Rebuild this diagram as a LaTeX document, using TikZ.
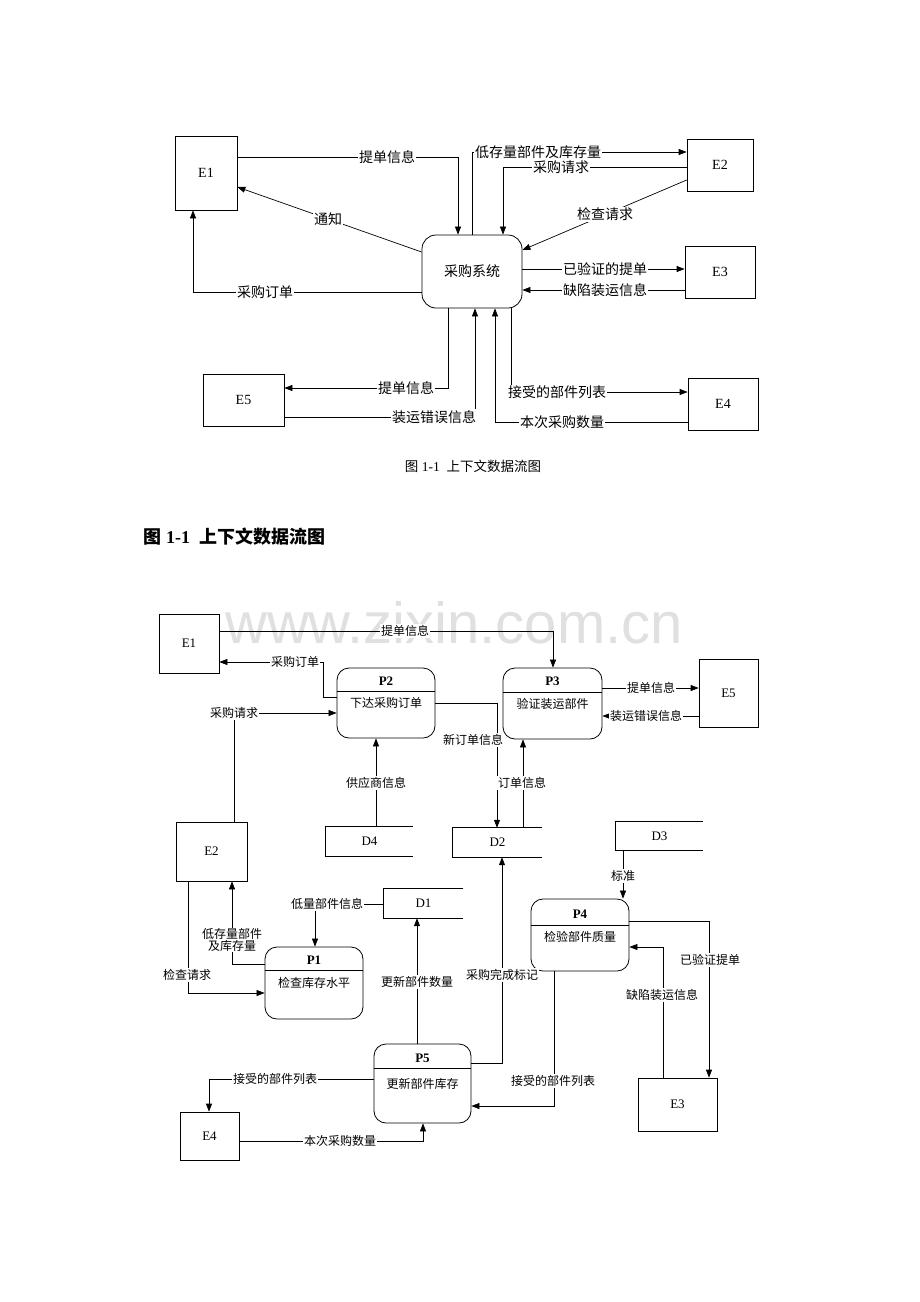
\documentclass[tikz,border=0pt]{standalone}
\usepackage{fontspec}
\setmainfont{Liberation Serif}
\newfontfamily\cjk{Noto Sans CJK SC}
\newfontfamily\wmfont{Liberation Sans}
\usetikzlibrary{arrows.meta}
\begin{document}
\begin{tikzpicture}[x=1pt,y=-1pt,
  ent/.style={draw, line width=0.7pt, inner sep=0pt, font=\fontsize{14}{16}\selectfont},
  entb/.style={draw, line width=0.7pt, inner sep=0pt, font=\fontsize{13}{15}\selectfont},
  proc/.style={draw, rounded corners=12pt, line width=0.8pt, inner sep=0pt},
  store/.style={inner sep=0pt, font=\fontsize{13}{15}\selectfont},
  phead/.style={inner sep=0pt, font=\bfseries\fontsize{13}{15}\selectfont},
  pbody/.style={inner sep=0pt, font=\cjk\fontsize{12}{14}\selectfont},
  lab/.style={fill=white, inner sep=1pt, font=\cjk\fontsize{14}{16}\selectfont},
  labs/.style={fill=white, inner sep=1pt, font=\cjk\fontsize{12}{14}\selectfont, align=center},
  conn/.style={line width=0.7pt},
  arr/.style={line width=0.7pt, -{Triangle[length=8pt,width=6pt]}}]
\useasboundingbox (0,0) rectangle (920,1302);
\fill[white] (0,0) rectangle (920,1302);

% ================= TOP: context diagram =================
\node[ent, minimum width=62pt, minimum height=74pt] (E1) at (206,173) {E1};
\node[ent, minimum width=66pt, minimum height=52pt] (E2) at (720,165) {E2};
\node[ent, minimum width=70pt, minimum height=52pt] (E3) at (720,272) {E3};
\node[ent, minimum width=70pt, minimum height=52pt] (E4) at (723,404) {E4};
\node[ent, minimum width=81pt, minimum height=52pt] (E5) at (243.5,400) {E5};
\node[proc, rounded corners=14pt, minimum width=100pt, minimum height=73pt,
      font=\cjk\fontsize{14}{16}\selectfont] (S) at (472,271.5) {采购系统};

\draw[arr] (E1.east |- 0,157) -| (S.north -| 458,0);
\draw[arr] (S.west |- 0,252) -- (E1.east |- 0,187);
\draw[arr] (S.west |- 0,292) -| (E1.south -| 193,0);
\draw[arr] (S.north -| 472,0) |- (E2.west |- 0,152);
\draw[arr] (E2.west |- 0,167) -| (S.north -| 503,0);
\draw[arr] (E2.west |- 0,180) -- (S.east |- 0,250);
\draw[arr] (S.east |- 0,269) -- (E3.west |- 0,269);
\draw[arr] (E3.west |- 0,290) -- (S.east |- 0,290);
\draw[arr] (S.south -| 448,0) |- (E5.east |- 0,388);
\draw[arr] (E5.east |- 0,417) -| (S.south -| 475,0);
\draw[arr] (E4.west |- 0,422) -| (S.south -| 495,0);
\draw[arr] (S.south -| 511,0) |- (E4.west |- 0,392);

\node[lab] (t1) at (387,157) {提单信息};
\node[lab] (t2) at (328,219) {通知};
\node[lab] (t3) at (265,292) {采购订单};
\node[lab] (t4) at (538,152) {低存量部件及库存量};
\node[lab] (t5) at (561,167) {采购请求};
\node[lab] (t6) at (605,214) {检查请求};
\node[lab] (t7) at (605,269) {已验证的提单};
\node[lab] (t8) at (605,290) {缺陷装运信息};
\node[lab] (t9) at (406,388) {提单信息};
\node[lab] (t10) at (434,417) {装运错误信息};
\node[lab] (t11) at (562,422) {本次采购数量};
\node[lab] (t12) at (557,392) {接受的部件列表};

\node[font=\fontsize{13.5}{15}\selectfont] (cap) at (473,466) {{\cjk 图} 1-1\ \ {\cjk 上下文数据流图}};
\node[anchor=west, font=\bfseries\fontsize{18}{20}\selectfont] (head) at (140,537) {{\cjk\bfseries 图} 1-1\ \ {\cjk\bfseries 上下文数据流图}};

% ================= BOTTOM: level-1 diagram =================
\node[text=black!12, anchor=base, font=\wmfont\fontsize{58}{60}\selectfont] (wm) at (454,643) {www.zixin.com.cn};

\node[entb, minimum width=60pt, minimum height=59pt] (E1b) at (189,643.5) {E1};
\node[entb, minimum width=71pt, minimum height=59pt] (E2b) at (211.5,851.5) {E2};
\node[entb, minimum width=79pt, minimum height=53pt] (E3b) at (677.5,1104.5) {E3};
\node[entb, minimum width=59pt, minimum height=48pt] (E4b) at (209.5,1136) {E4};
\node[entb, minimum width=59pt, minimum height=68pt] (E5b) at (728.5,693) {E5};

\node[proc, minimum width=98pt, minimum height=70pt] (P2) at (386,703) {};
\node[proc, minimum width=99pt, minimum height=71pt] (P3) at (552.5,703.5) {};
\node[proc, minimum width=98pt, minimum height=72pt] (P1) at (314,983) {};
\node[proc, minimum width=98pt, minimum height=72pt] (P4) at (580,935) {};
\node[proc, minimum width=97pt, minimum height=79pt] (P5) at (422.5,1083.5) {};
\draw[conn] (P2.west |- 0,691) -- (P2.east |- 0,691);
\draw[conn] (P3.west |- 0,692) -- (P3.east |- 0,692);
\draw[conn] (P1.west |- 0,970) -- (P1.east |- 0,970);
\draw[conn] (P4.west |- 0,925) -- (P4.east |- 0,925);
\draw[conn] (P5.west |- 0,1068) -- (P5.east |- 0,1068);
\node[phead] (P2h) at (386,681) {P2};
\node[pbody] (P2t) at (386,703) {下达采购订单};
\node[phead] (P3h) at (552.5,681) {P3};
\node[pbody] (P3t) at (552.5,704) {验证装运部件};
\node[phead] (P1h) at (314,960) {P1};
\node[pbody] (P1t) at (314,983) {检查库存水平};
\node[phead] (P4h) at (580,914) {P4};
\node[pbody] (P4t) at (580,937) {检验部件质量};
\node[phead] (P5h) at (422.5,1058) {P5};
\node[pbody] (P5t) at (422.5,1084) {更新部件库存};

\node[store, minimum width=87pt, minimum height=29pt] (D4) at (369.5,841.5) {D4};
\node[store, minimum width=89pt, minimum height=29pt] (D2) at (497.5,842.5) {D2};
\node[store, minimum width=87pt, minimum height=28pt] (D3) at (659.5,836) {D3};
\node[store, minimum width=79pt, minimum height=29pt] (D1) at (423.5,903.5) {D1};
\foreach \d in {D1,D2,D3,D4}
  \draw[conn] (\d.north east) -- (\d.north west) -- (\d.south west) -- (\d.south east);

\draw[arr] (E1b.east |- 0,631) -| (P3.north -| 553,0);
\draw[arr] (P2.west |- 0,697) -- (323,697) |- (E1b.east |- 0,662);
\draw[arr] (E2b.north -| 234,0) |- (P2.west |- 0,713);
\draw[arr] (P2.east |- 0,703) -| (D2.north -| 497,0);
\draw[arr] (D4.north -| 376,0) -- (P2.south -| 376,0);
\draw[arr] (D2.north -| 523,0) -- (P3.south -| 523,0);
\draw[arr] (P3.east |- 0,688) -- (E5b.west |- 0,688);
\draw[arr] (E5b.west |- 0,716) -- (P3.east |- 0,716);
\draw[arr] (D1.west |- 0,904) -| (P1.north -| 315,0);
\draw[arr] (P1.west |- 0,964) -| (E2b.south -| 232,0);
\draw[arr] (E2b.south -| 188,0) |- (P1.west |- 0,993);
\draw[arr] (P5.north -| 417,0) -- (D1.south -| 417,0);
\draw[arr] (P5.east |- 0,1063) -| (D2.south -| 502,0);
\draw[arr] (D3.south -| 623,0) -- (P4.north -| 623,0);
\draw[arr] (P4.east |- 0,921) -| (E3b.north -| 709,0);
\draw[arr] (E3b.north -| 663,0) |- (P4.east |- 0,947);
\draw[arr] (P4.south -| 554,0) |- (P5.east |- 0,1106);
\draw[arr] (P5.west |- 0,1079) -| (E4b.north -| 209,0);
\draw[arr] (E4b.east |- 0,1141) -| (P5.south -| 423,0);

\node[labs] (b1) at (405,631) {提单信息};
\node[labs] (b2) at (295,662) {采购订单};
\node[labs] (b3) at (234,713) {采购请求};
\node[labs] (b4) at (473,740) {新订单信息};
\node[labs] (b5) at (376,783) {供应商信息};
\node[labs] (b6) at (522,783) {订单信息};
\node[labs] (b7) at (651,688) {提单信息};
\node[labs] (b8) at (646,716) {装运错误信息};
\node[labs] (b9) at (327,904) {低量部件信息};
\node[labs, inner sep=0.5pt] (b10) at (232,940) {低存量部件\\[-2pt]及库存量};
\node[labs] (b11) at (187,975) {检查请求};
\node[labs] (b12) at (417,982) {更新部件数量};
\node[labs] (b13) at (502,975) {采购完成标记};
\node[labs] (b14) at (623,876) {标准};
\node[labs] (b15) at (710,960) {已验证提单};
\node[labs] (b16) at (662,995) {缺陷装运信息};
\node[labs] (b17) at (553,1081) {接受的部件列表};
\node[labs] (b18) at (275,1079) {接受的部件列表};
\node[labs] (b19) at (340,1141) {本次采购数量};
\end{tikzpicture}
\end{document}
